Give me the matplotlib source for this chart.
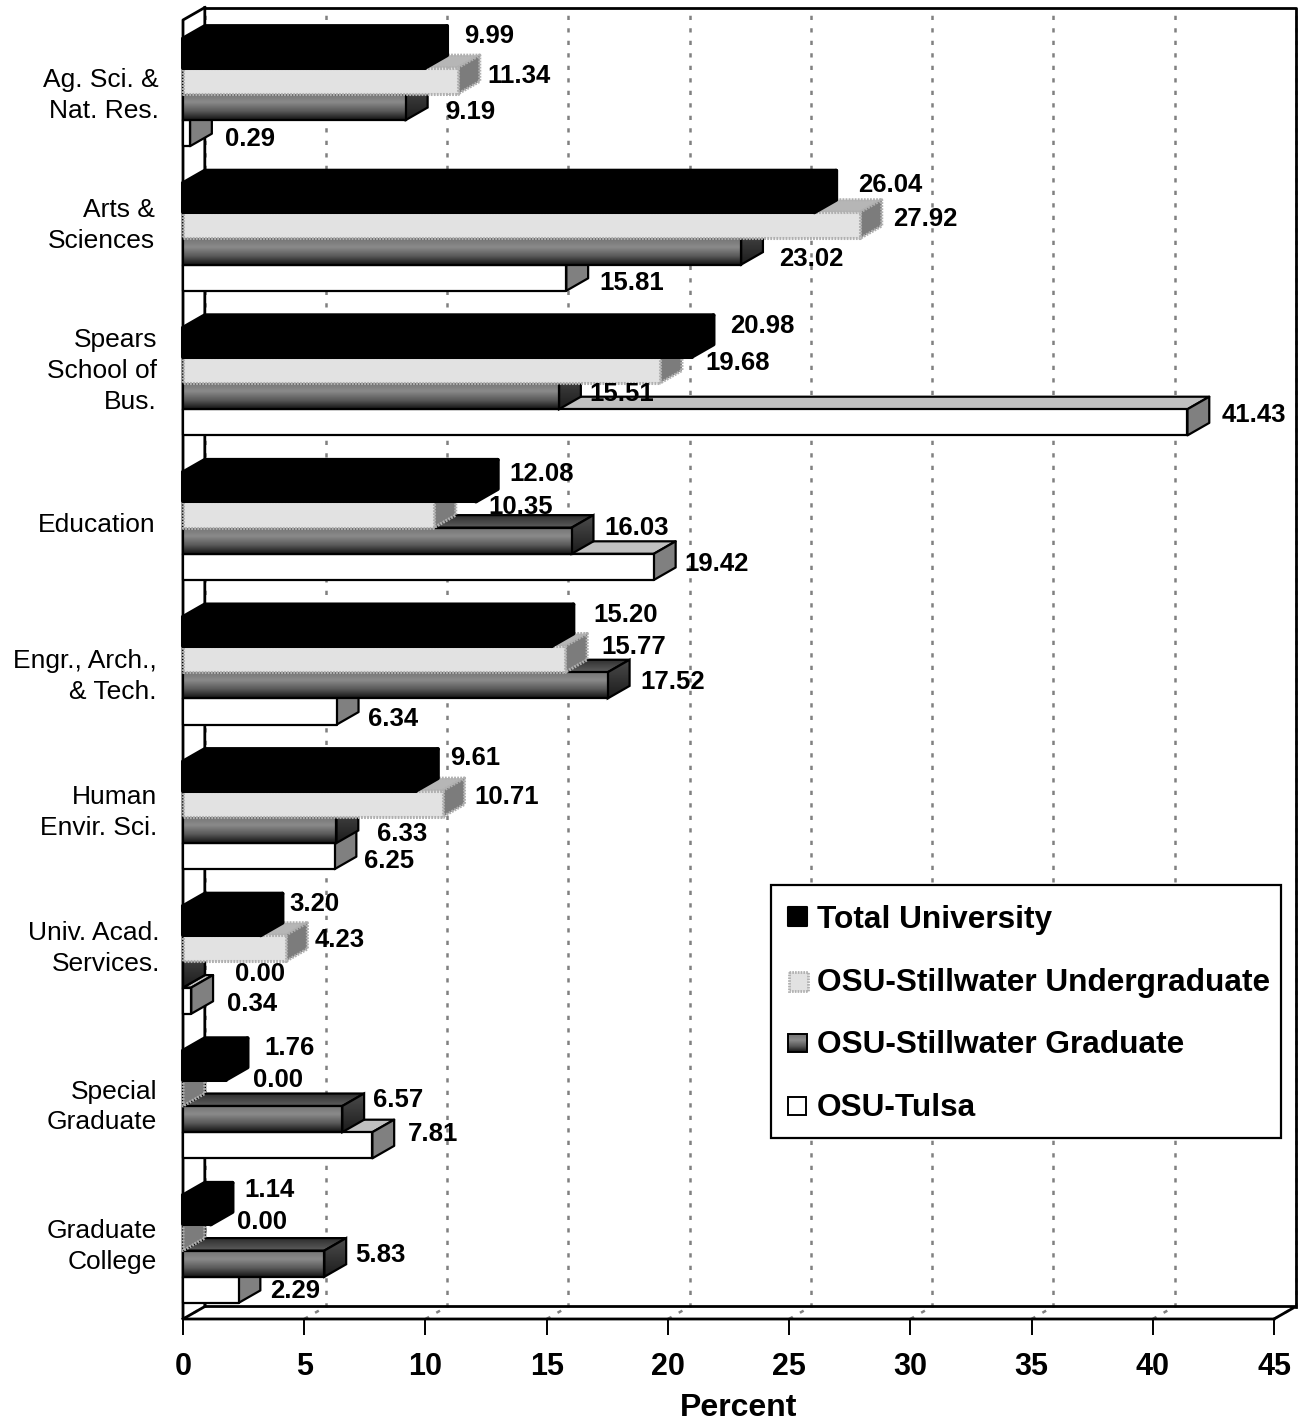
import matplotlib
matplotlib.use('Agg')
import matplotlib.pyplot as plt
import numpy as np
from matplotlib.colors import LinearSegmentedColormap
from matplotlib.patches import Polygon, Rectangle

plt.rcParams['font.family'] = ['Liberation Sans', 'DejaVu Sans']

W, H = 1298, 1420

categories = ['Ag. Sci. &\nNat. Res.', 'Arts &\nSciences', 'Spears\nSchool of\nBus.', 'Education',
              'Engr., Arch.,\n& Tech.', 'Human\nEnvir. Sci.', 'Univ. Acad.\nServices.', 'Special\nGraduate',
              'Graduate\nCollege']
series = ['Total University', 'OSU-Stillwater Undergraduate', 'OSU-Stillwater Graduate', 'OSU-Tulsa']
total = [9.99, 26.04, 20.98, 12.08, 15.20, 9.61, 3.20, 1.76, 1.14]
undergrad = [11.34, 27.92, 19.68, 10.35, 15.77, 10.71, 4.23, 0.00, 0.00]
graduate = [9.19, 23.02, 15.51, 16.03, 17.52, 6.33, 0.00, 6.57, 5.83]
tulsa = [0.29, 15.81, 41.43, 19.42, 6.34, 6.25, 0.34, 7.81, 2.29]
values = [total, undergrad, graduate, tulsa]
x_ticks = [0, 5, 10, 15, 20, 25, 30, 35, 40, 45]

# label nudges in pixels from the bar end (dx, dy down)
label_off = [
    [(39, -19), (29, -5), (39, 5), (35, 6)],
    [(44, -14), (33, -6), (38, 7), (33, 5)],
    [(38, -18), (45, -7), (30, -2), (34, -7)],
    [(34, -14), (54, -8), (33, -13), (31, -3)],
    [(42, -18), (36, -12), (33, -3), (31, 8)],
    [(34, -20), (32, -7), (41, 4), (29, 5)],
    [(29, -18), (29, -8), (52, -1), (36, 3)],
    [(39, -19), (70, -13), (31, -19), (36, -11)],
    [(34, -21), (54, -16), (31, -9), (32, 1)],
]
cat_off = [(-24, 2), (-28, -13), (-26, -12), (-27, -3), (-26, 4), (-26, -4), (-23, -13), (-26, 1), (-26, -4)]

# geometry: one y unit is one category group
bar_h = 0.181
dx = 0.9
dy = 0.0864
black_extra = 0.02

fig = plt.figure(figsize=(W / 100, H / 100), dpi=100)
ax = fig.add_axes([183 / W, 1 - 1319 / H, (1274 - 183) / W, (1319 - 20) / H])
ax.set_facecolor('none')
for s in ax.spines.values():
    s.set_visible(False)

grad_front = LinearSegmentedColormap.from_list('front', ['#747474', '#8a8a8a', '#5a5a5a', '#141414'])
grad_top = LinearSegmentedColormap.from_list('top', ['#2e2e2e', '#5e5e5e'])
grad_side = LinearSegmentedColormap.from_list('side', ['#4c4c4c', '#1c1c1c'])
ramp = np.linspace(0, 1, 64).reshape(-1, 1)

styles = [
    dict(front='black', top='black', side='black', ec='black', lw=2.9, ls='-'),
    dict(front='#e2e2e2', top='#b6b6b6', side='#7c7c7c', ec='#b0b0b0', lw=2.2, ls=(0, (0.6, 0.4))),
    dict(front=None, top=None, side=None, ec='black', lw=1.6, ls='-'),
    dict(front='white', top='#c0c0c0', side='#808080', ec='black', lw=1.6, ls='-'),
]


def face(pts, color, style, z, cmap=None):
    if cmap is None:
        ax.add_patch(Polygon(pts, closed=True, fc=color, ec=style['ec'], lw=style['lw'], ls=style['ls'],
                             joinstyle='round', zorder=z, clip_on=False))
        return
    xs = [p[0] for p in pts]
    ys = [p[1] for p in pts]
    if max(xs) - min(xs) < 1e-6:
        ax.plot(xs, ys, color='black', lw=style['lw'], zorder=z, clip_on=False)
        return
    poly = Polygon(pts, closed=True, fc='none', ec='none', transform=ax.transData)
    ax.add_patch(poly)
    im = ax.imshow(ramp, cmap=cmap, vmin=0, vmax=1, aspect='auto', origin='upper', zorder=z,
                   extent=(min(xs), max(xs), max(ys), min(ys)), clip_on=True)
    im.set_clip_path(poly)
    ax.add_patch(Polygon(pts, closed=True, fc='none', ec=style['ec'], lw=style['lw'], zorder=z + 0.1, clip_on=False))


# grid on the back wall, and the floor
grid_ls = (0, (1.7, 3.3))
for t in x_ticks:
    ax.plot([t + dx, t + dx], [8.835 - dy, -0.1487 - dy + 0.03], color='#808080', lw=1.8,
            ls=grid_ls, zorder=1, clip_on=False)
    ax.plot([t, t + dx], [8.835, 8.835 - dy], color='#808080', lw=1.8, ls=grid_ls, zorder=1, clip_on=False)

wall_c = dict(color='black', lw=2.0, zorder=2, clip_on=False)
ax.plot([dx, 45 + dx, 45 + dx], [-0.1487 - dy, -0.1487 - dy, 8.835 - dy], **wall_c)
ax.plot([dx, dx, 45 + dx, 45], [-0.1487 - dy, 8.835 - dy, 8.835 - dy, 8.835], **wall_c)
ax.plot([dx, 0, 0, 45], [-0.1487 - dy, -0.1487, 8.835, 8.835], **wall_c)
ax.plot([0, dx], [8.835, 8.835 - dy], **wall_c)

z = 3
for g in range(len(categories) - 1, -1, -1):
    for i in range(3, -1, -1):
        v = values[i][g]
        y = g + i * bar_h
        h = bar_h
        if i == 0:
            y = y - black_extra
            h = bar_h + black_extra
        st = styles[i]
        top_pts = [(0, y), (v, y), (v + dx, y - dy), (dx, y - dy)]
        side_pts = [(v, y), (v + dx, y - dy), (v + dx, y + h - dy), (v, y + h)]
        front_pts = [(0, y), (v, y), (v, y + h), (0, y + h)]
        if i == 2:
            face(top_pts, None, st, z, grad_top)
            face(side_pts, None, st, z + 1, grad_side)
            face(front_pts, None, st, z + 2, grad_front)
        else:
            face(top_pts, st['top'], st, z)
            face(side_pts, st['side'], st, z + 1)
            if v > 0:
                face(front_pts, st['front'], st, z + 2)
        z += 3

# value labels sit above all bars
for g in range(len(categories)):
    for i in range(4):
        v = values[i][g]
        off = label_off[g][i]
        ax.annotate(f'{v:.2f}', xy=(v, g + (i + 0.5) * bar_h), xytext=(off[0], -off[1]), textcoords='offset pixels',
                    ha='left', va='center', fontsize=18.5, fontweight='bold', zorder=z + 5, annotation_clip=False)
    off = cat_off[g]
    ax.annotate(categories[g], xy=(0, g + 2 * bar_h), xytext=(off[0], -off[1]), textcoords='offset pixels',
                ha='right', va='center', multialignment='right', fontsize=19, linespacing=1.36,
                zorder=z + 5, annotation_clip=False)

ax.set_xlim(0, 45)
ax.set_ylim(8.835, -0.1487)
ax.set_yticks([])
ax.set_xticks(x_ticks)
ax.tick_params(axis='x', length=11.5, width=1.4, pad=12, labelsize=22)
for lab in ax.get_xticklabels():
    lab.set_fontweight('bold')
ax.set_xlabel('Percent', fontsize=23, fontweight='bold', labelpad=8, x=0.5096)

# legend box, drawn by hand because of the gradient swatch
lg = fig.add_axes([0, 0, 1, 1], facecolor='none', zorder=10)
lg.set_xlim(0, W)
lg.set_ylim(H, 0)
lg.axis('off')
lg.add_patch(Rectangle((771, 885), 510, 253, fc='white', ec='black', lw=1.6))
sw_y = [920, 983, 1045, 1108]
lg.add_patch(Rectangle((788, 907), 19, 19, fc='black', ec='black', lw=1.5, joinstyle='round'))
lg.add_patch(Rectangle((789, 972), 19, 19, fc='#e2e2e2', ec='#b0b0b0', lw=2.0, ls=(0, (0.6, 0.4))))
sw = Rectangle((788, 1034), 19, 18, fc='none', ec='black', lw=1.4, zorder=3)
lg.add_patch(sw)
lg.imshow(ramp, cmap=grad_front, vmin=0, vmax=1, aspect='auto', extent=(788, 807, 1052, 1034), zorder=2)
lg.add_patch(Rectangle((788, 1097), 18, 18, fc='white', ec='black', lw=1.4))
lg.set_xlim(0, W)
lg.set_ylim(H, 0)
for name, yy in zip(series, sw_y):
    lg.text(817, yy, name, fontsize=22.8, fontweight='bold', va='center', ha='left')

fig.savefig('out.png', dpi=100)
